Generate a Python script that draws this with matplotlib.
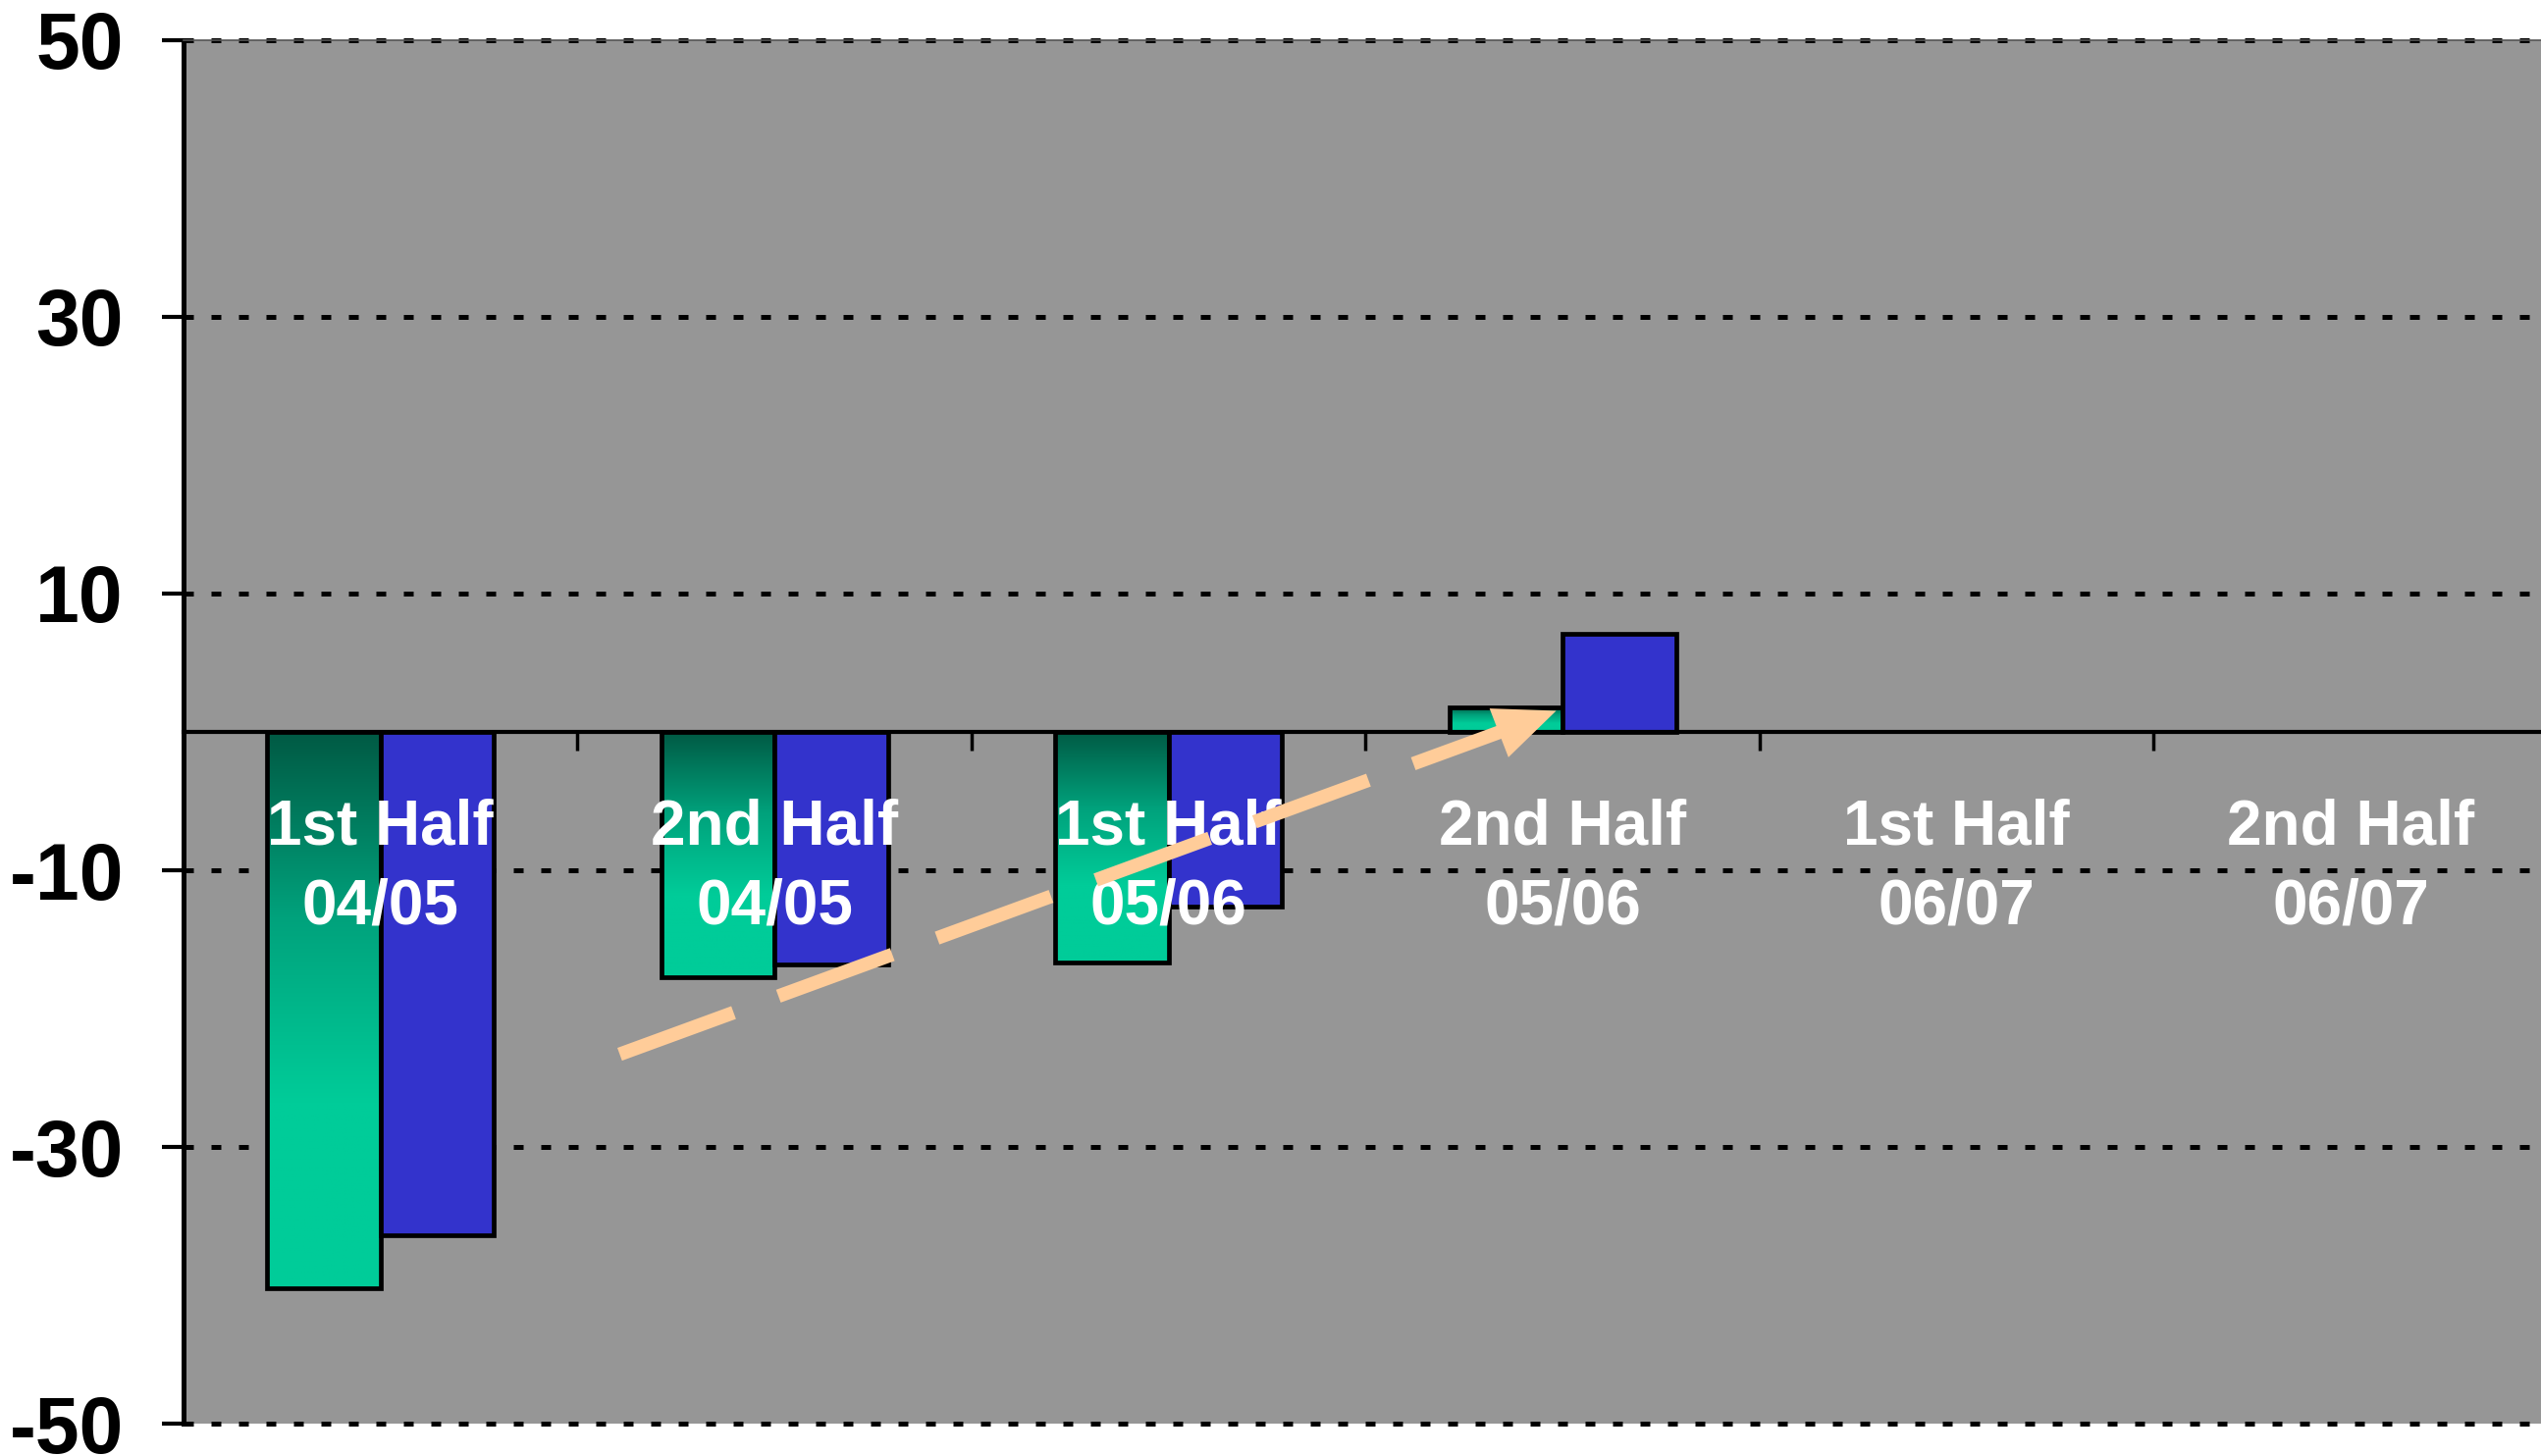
import numpy as np
import matplotlib
matplotlib.use('Agg')
import matplotlib.pyplot as plt
from matplotlib.colors import LinearSegmentedColormap

# data
categories = ['1st Half\n04/05', '2nd Half\n04/05', '1st Half\n05/06',
              '2nd Half\n05/06', '1st Half\n06/07', '2nd Half\n06/07']
series_green = [-40.2, -17.7, -16.7, 1.8]
series_blue = [-36.4, -16.8, -12.6, 7.1]
y_ticks = [-50, -30, -10, 10, 30, 50]

# trend arrow (data coordinates): start and tip
arrow_start = (0.607, -23.3)
arrow_end = (2.99, 1.6)

plt.rcParams['font.family'] = ['Liberation Sans', 'DejaVu Sans']

fig = plt.figure(figsize=(25.89, 14.84), dpi=100)
ax = fig.add_axes([0.0722, 0.0222, 0.9305, 0.9502])
ax.set_facecolor('#969696')

x = np.arange(len(categories))
width = 0.288

ax.set_xlim(-0.5, len(categories) - 0.5)
ax.set_ylim(-50, 50)

# dotted gridlines (square dots)
for yv in y_ticks:
    ax.axhline(yv, color='black', lw=3.6, linestyle=(0, (2.0, 3.6)), zorder=1, clip_on=False)

# green bars with vertical gradient (dark at top, bright at bottom)
cmap = LinearSegmentedColormap.from_list('grn', ['#005a44', '#00a27c', '#00cc99', '#00cc99'])
grad = np.linspace(0, 1, 256).reshape(-1, 1)
green_bars = ax.bar(x[:len(series_green)] - width / 2, series_green, width,
                    facecolor='none', edgecolor='black', linewidth=3.4, zorder=4)
for b in green_bars:
    x0, y0 = b.get_x(), b.get_y()
    w, h = b.get_width(), b.get_height()
    lo, hi = min(y0, y0 + h), max(y0, y0 + h)
    im = ax.imshow(grad, cmap=cmap, aspect='auto', origin='upper',
                   extent=[x0, x0 + w, lo, hi], zorder=3)
    im.set_clip_path(b)

ax.bar(x[:len(series_blue)] + width / 2, series_blue, width,
       color='#3333cc', edgecolor='black', linewidth=3.4, zorder=4)

# category labels in the plot area
for xi, lab in zip(x, categories):
    ax.text(xi, -9.8, lab, ha='center', va='center', color='white',
            fontsize=46, fontweight='bold', linespacing=1.45, zorder=6)

# dashed trend arrow
ax.plot([arrow_start[0], arrow_end[0] - 0.12], [arrow_start[1], arrow_end[1] - 1.3],
        color='#ffcc99', lw=10, linestyle=(0, (8.9, 3.5)), dash_capstyle='butt',
        solid_capstyle='butt', zorder=7)
ax.annotate('', xy=arrow_end, xytext=(arrow_end[0] - 0.2, arrow_end[1] - 2.2),
            arrowprops=dict(arrowstyle='-|>,head_length=0.75,head_width=0.32',
                            mutation_scale=60, color='#ffcc99', lw=0),
            zorder=7)

# axes styling
ax.spines['bottom'].set_position(('data', 0))
ax.spines['bottom'].set_linewidth(3)
ax.spines['bottom'].set_zorder(5)
ax.spines['left'].set_linewidth(3.6)
ax.spines['top'].set_linewidth(1.2)
ax.spines['top'].set_color('#555555')
ax.spines['right'].set_visible(False)

ax.set_yticks(y_ticks)
ax.set_yticklabels([str(v) for v in y_ticks], fontsize=58, fontweight='bold')
ax.tick_params(axis='y', direction='out', length=16, width=3, pad=28)

ax.set_xticks(x[:-1] + 0.5)
ax.set_xticklabels([])
ax.tick_params(axis='x', direction='out', length=14, width=2.5)

fig.savefig('out.png', dpi=100, facecolor='white')
